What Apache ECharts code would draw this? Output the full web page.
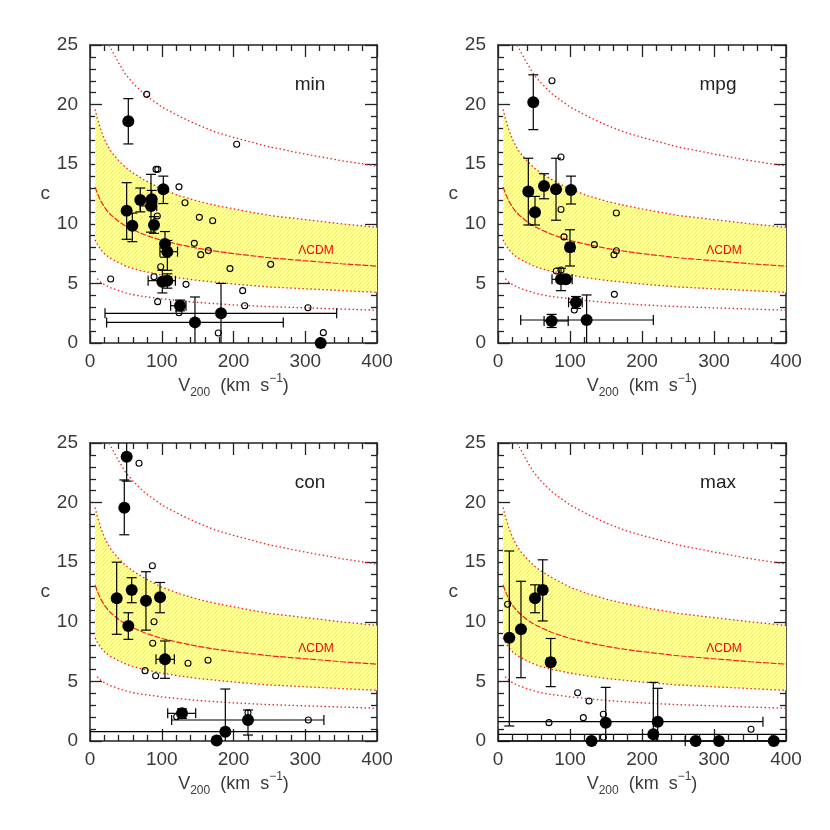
<!DOCTYPE html>
<html><head><meta charset="utf-8">
<script src="https://cdn.jsdelivr.net/npm/echarts@6/dist/echarts.min.js"></script>
<style>html,body{margin:0;background:#fff}#c{width:830px;height:830px}</style>
</head><body><div id="c"></div>
<script>
// ---------- ΛCDM model curves ----------
const bandV = [7,10,15,20,25,30,40,50,60,75,100,125,150,175,200,250,300,350,400];
const meanC = [13.1,12.6,11.9,11.4,11.0,10.7,10.2,9.8,9.5,9.1,8.6,8.25,7.95,7.7,7.5,7.15,6.9,6.65,6.45];
const hi1C  = [19.6,18.9,17.9,17.1,16.5,16.0,15.3,14.7,14.25,13.7,12.9,12.35,11.9,11.55,11.25,10.7,10.35,10.0,9.7];
const lo1C  = [8.65,8.3,7.85,7.5,7.25,7.05,6.75,6.45,6.25,6.0,5.7,5.45,5.25,5.1,4.95,4.7,4.55,4.4,4.25];
const hi2V  = [27,30,40,50,60,75,100,125,150,175,200,250,300,350,400];
const hi2C  = [25.0,24.6,23.5,22.5,21.8,20.9,19.8,19.0,18.3,17.7,17.25,16.45,15.85,15.3,14.85];
const lo2V  = [10,15,20,25,30,40,50,60,75,100,125,150,175,200,250,300,350,400];
const lo2C  = [5.4,5.1,4.9,4.75,4.6,4.4,4.2,4.05,3.9,3.7,3.55,3.4,3.3,3.2,3.05,2.95,2.85,2.75];

// ---------- panel "min" ----------
const minPts = [[53.4,18.6],[51.1,11.1],[59.0,9.84],[70.1,12.0],[86.0,12.05],[85.0,11.5],[89.2,9.9],[102.2,12.9],[104.5,8.3],[107.8,7.66],[100.8,5.14],[107.8,5.23],[125.4,3.13],[146.3,1.73],[182.6,2.49],[321.5,0]];
const minYErr = [[16.7,20.5],[8.7,13.45],[8.5,10.9],[11.0,13.0],[11.3,12.8],[9.3,14.15],[9.2,10.6],[11.7,14.0],[7.2,9.35],[6.1,8.6],[4.2,6.1],[4.6,5.8],[2.7,3.6],[0,3.86],[0,5.0],null];
const minXErr = [null,null,null,null,null,[70,93],null,null,null,[97.5,122],null,[81,119],[112.4,133.8],[23.2,269.4],[20.9,343.8],null];
const minOpen = [[79,20.86],[204.4,16.67],[92,14.57],[94.5,14.57],[124,13.1],[132.4,11.77],[93.8,10.65],[152.4,10.54],[171,10.26],[145.4,8.36],[154.3,7.41],[164.9,7.75],[98.5,6.4],[195.1,6.24],[251.8,6.6],[89.2,5.56],[28.8,5.37],[133.8,4.92],[212.8,4.39],[94.3,3.47],[215.6,3.13],[303.8,2.96],[124,2.54],[178.8,0.84],[325.2,0.87]];

// ---------- panel "mpg" ----------
const mpgPts = [[49,20.2],[42.1,12.7],[51.4,10.96],[63.9,13.17],[80.6,12.9],[101.4,12.84],[100,8.03],[87.5,5.34],[94.4,5.34],[108.3,3.41],[74.5,1.85],[123.1,1.93]];
const mpgYErr = [[17.9,22.5],[9.9,15.5],[9.9,12.3],[12.1,14.2],[10.3,15.5],[11.66,14.0],[6.46,9.5],[4.39,6.27],null,[2.9,3.9],[1.3,2.4],[0,4.03]];
const mpgXErr = [null,null,null,null,null,null,[95,106],[75,103],null,[98,117],[64,97.5],[31.5,215.7]];
const mpgOpen = [[75,22.0],[87.5,15.6],[87.5,11.2],[164.4,10.9],[91.7,8.9],[133.8,8.25],[164.4,7.74],[161.1,7.4],[81,6.04],[87.5,6.12],[161.6,4.08],[106,2.77]];

// ---------- panel "con" ----------
const conPts = [[51.1,23.85],[47.8,19.57],[37.2,11.97],[53.4,9.65],[58.1,12.67],[78,11.77],[97.6,12.06],[104.5,6.85],[128.2,2.32],[220.2,1.76],[188.6,0.78],[176.5,0.05]];
const conYErr = [[21.8,26],[17.3,21.9],[8.95,15.0],[8.53,10.76],[11.6,13.7],[9.3,14.2],[10.76,13.3],[5.26,8.39],[1.9,2.7],[0.5,2.6],[0,4.36],null];
const conXErr = [null,null,null,null,null,null,null,[92,117.5],[108.3,147.3],[113.8,326],[-10,420],null];
const conOpen = [[68.3,23.3],[86.9,14.7],[89.2,10.0],[87.4,8.2],[76.7,5.9],[91.5,5.48],[136.6,6.52],[164.5,6.77],[304.3,1.76],[220.2,2.37],[120.8,2.04]];

// ---------- panel "max" ----------
const maxPts = [[15.7,8.67],[31.9,9.37],[51.4,11.97],[62.1,12.67],[73.2,6.6],[149.6,1.54],[221.8,1.62],[215.7,0.56],[130,0],[274.5,0],[307,0],[383,0]];
const maxYErr = [[1.26,15.94],[5.31,13.4],[10.76,13.1],[10.07,15.2],[4.56,8.6],[0,4.5],[0,4.42],[0,4.92],null,null,null,null];
const maxXErr = [null,null,null,[57,67],[68,78],null,[-10,368],[-10,420],[-10,420],[260,420],null,null];
const maxOpen = [[13.4,11.47],[70.8,1.54],[110.6,4.05],[126.4,3.36],[118.5,1.96],[146.3,2.24],[146.3,0.31],[351.4,0.98]];

// ---------- axes ----------
const xTicks = [0,100,200,300,400];
const yTicks = [0,5,10,15,20,25];

const panels = [
  {label:'min', pts:minPts, yErr:minYErr, xErr:minXErr, open:minOpen, left:90,  top:45,  w:287},
  {label:'mpg', pts:mpgPts, yErr:mpgYErr, xErr:mpgXErr, open:mpgOpen, left:498, top:45,  w:288},
  {label:'con', pts:conPts, yErr:conYErr, xErr:conXErr, open:conOpen, left:90,  top:443, w:287},
  {label:'max', pts:maxPts, yErr:maxYErr, xErr:maxXErr, open:maxOpen, left:498, top:443, w:288}
];

// hatch pattern
const pat = document.createElement('canvas');
pat.width = 4; pat.height = 4;
(function(){
  const g = pat.getContext('2d');
  g.fillStyle = '#ffffff'; g.fillRect(0,0,4,4);
  g.strokeStyle = '#ffff00'; g.lineWidth = 1.3;
  g.beginPath();
  g.moveTo(0,4); g.lineTo(4,0);
  g.moveTo(-1,1); g.lineTo(1,-1);
  g.moveTo(3,5); g.lineTo(5,3);
  g.stroke();
})();

const FONT = '"Liberation Sans", "DejaVu Sans", sans-serif';
const AX = '#222';
const TXT = '#3a3a3a';

function zip(a,b){ return a.map((v,i)=>[v,b[i]]); }

function bandRender(params, api){
  const pts = [];
  for (let i=0;i<bandV.length;i++) pts.push(api.coord([bandV[i], hi1C[i]]));
  for (let i=bandV.length-1;i>=0;i--) pts.push(api.coord([bandV[i], lo1C[i]]));
  return {type:'polygon', shape:{points:pts}, style:{fill:{image:pat, repeat:'repeat'}, stroke:null}};
}

function errRender(pts, yErr, xErr){
  return function(params, api){
    const i = params.dataIndex;
    const V = api.value(0), C = api.value(1);
    const st = {stroke:'#000', lineWidth:1.2};
    const ch = [];
    const cap = 5;
    const cx = v => Math.max(0, Math.min(400, v));
    const cy = v => Math.max(0, Math.min(25, v));
    const ln = (a,b) => ch.push({type:'line', shape:{x1:a[0],y1:a[1],x2:b[0],y2:b[1]}, style:st});
    if (yErr[i]) {
      const lo = yErr[i][0], hi = yErr[i][1];
      const a = api.coord([V, cy(lo)]), b = api.coord([V, cy(hi)]);
      ln(a,b);
      if (lo > 0) ln([a[0]-cap,a[1]],[a[0]+cap,a[1]]);
      if (hi <= 25) ln([b[0]-cap,b[1]],[b[0]+cap,b[1]]);
    }
    if (xErr[i]) {
      const lo = xErr[i][0], hi = xErr[i][1];
      const a = api.coord([cx(lo), C]), b = api.coord([cx(hi), C]);
      ln(a,b);
      if (lo >= 0) ln([a[0],a[1]-cap],[a[0],a[1]+cap]);
      if (hi <= 400) ln([b[0],b[1]-cap],[b[0],b[1]+cap]);
    }
    return {type:'group', children:ch};
  };
}

const grid=[], xAxis=[], yAxis=[], series=[], graphic=[];
panels.forEach((p,g)=>{
  grid.push({left:p.left, top:p.top, width:p.w, height:298, containLabel:false});
  const tickStyle = {color:AX, width:1.3};
  const baseX = {gridIndex:g, type:'value', min:xTicks[0], max:xTicks[xTicks.length-1], interval:100,
    axisLine:{show:true, onZero:false, lineStyle:{color:AX, width:1.5}},
    axisTick:{show:true, inside:true, length:12, lineStyle:tickStyle},
    minorTick:{show:true, splitNumber:5, length:6, lineStyle:tickStyle},
    splitLine:{show:false}, minorSplitLine:{show:false}};
  xAxis.push(Object.assign({}, baseX, {position:'bottom',
    axisLabel:{show:true, fontSize:19, color:TXT, fontFamily:FONT, margin:9},
    name:'{n|V}{s|200}{n|  (km  s}{p|−1}{n|)}', nameLocation:'middle', nameGap:30,
    nameTextStyle:{fontFamily:FONT, color:TXT, rich:{
      n:{fontSize:18, fontFamily:FONT, color:TXT, lineHeight:26, verticalAlign:'middle'},
      s:{fontSize:12, fontFamily:FONT, color:TXT, lineHeight:26, verticalAlign:'bottom'},
      p:{fontSize:12, fontFamily:FONT, color:TXT, lineHeight:26, verticalAlign:'top'}}}}));
  xAxis.push(Object.assign({}, baseX, {position:'top', axisLabel:{show:false}}));
  const baseY = {gridIndex:g, type:'value', min:yTicks[0], max:yTicks[yTicks.length-1], interval:5,
    axisLine:{show:true, onZero:false, lineStyle:{color:AX, width:1.5}},
    axisTick:{show:true, inside:true, length:12, lineStyle:tickStyle},
    minorTick:{show:true, splitNumber:5, length:6, lineStyle:tickStyle},
    splitLine:{show:false}, minorSplitLine:{show:false}};
  yAxis.push(Object.assign({}, baseY, {position:'left',
    axisLabel:{show:true, fontSize:19, color:TXT, fontFamily:FONT, margin:12},
    name:'c', nameLocation:'middle', nameRotate:0, nameGap:40,
    nameTextStyle:{fontSize:19, color:TXT, fontFamily:FONT}}));
  yAxis.push(Object.assign({}, baseY, {position:'right', axisLabel:{show:false}}));

  const xi = 2*g, yi = 2*g;
  const curve = (data, z, type, w) => ({type:'line', xAxisIndex:xi, yAxisIndex:yi, data, smooth:false,
    showSymbol:false, silent:true, z, lineStyle:{color:'#ff1a1a', type, width:w}});
  // hatched band
  series.push({type:'custom', xAxisIndex:xi, yAxisIndex:yi, data:[[bandV[0], meanC[0]]], z:1, silent:true,
    renderItem:bandRender});
  series.push(curve(zip(bandV, hi1C), 2, [1.5,2.5], 1.3));
  series.push(curve(zip(bandV, lo1C), 2, [1.5,2.5], 1.3));
  series.push(curve(zip(bandV, meanC), 2, [6,1.5], 1.2));
  series.push(curve(zip(hi2V, hi2C), 2, [1.5,2.5], 1.3));
  series.push(curve(zip(lo2V, lo2C), 2, [1.5,2.5], 1.3));
  // error bars
  series.push({type:'custom', xAxisIndex:xi, yAxisIndex:yi, data:p.pts, z:3, silent:true,
    renderItem:errRender(p.pts, p.yErr, p.xErr)});
  // open circles
  series.push({type:'scatter', xAxisIndex:xi, yAxisIndex:yi, data:p.open, z:4, silent:true,
    symbol:'circle', symbolSize:6, clip:false,
    itemStyle:{color:'rgba(255,255,255,0)', borderColor:'#000', borderWidth:1.1, opacity:1}});
  // filled circles
  series.push({type:'scatter', xAxisIndex:xi, yAxisIndex:yi, data:p.pts, z:5, silent:true,
    symbol:'circle', symbolSize:12, clip:false, itemStyle:{color:'#000', opacity:1}});

  graphic.push({type:'text', x:p.left+220, y:p.top+40, z:10,
    style:{text:p.label, font:'19px '+FONT, fill:'#222', align:'center', verticalAlign:'middle'}});
  graphic.push({type:'text', x:p.left+226, y:p.top+206, z:10,
    style:{text:'ΛCDM', font:'12px '+FONT, fill:'#ff0000', align:'center', verticalAlign:'middle'}});
});

const chart = echarts.init(document.getElementById('c'), null, {renderer:'canvas'});
chart.setOption({animation:false, backgroundColor:'#fff', grid, xAxis, yAxis, series, graphic});
</script></body></html>
